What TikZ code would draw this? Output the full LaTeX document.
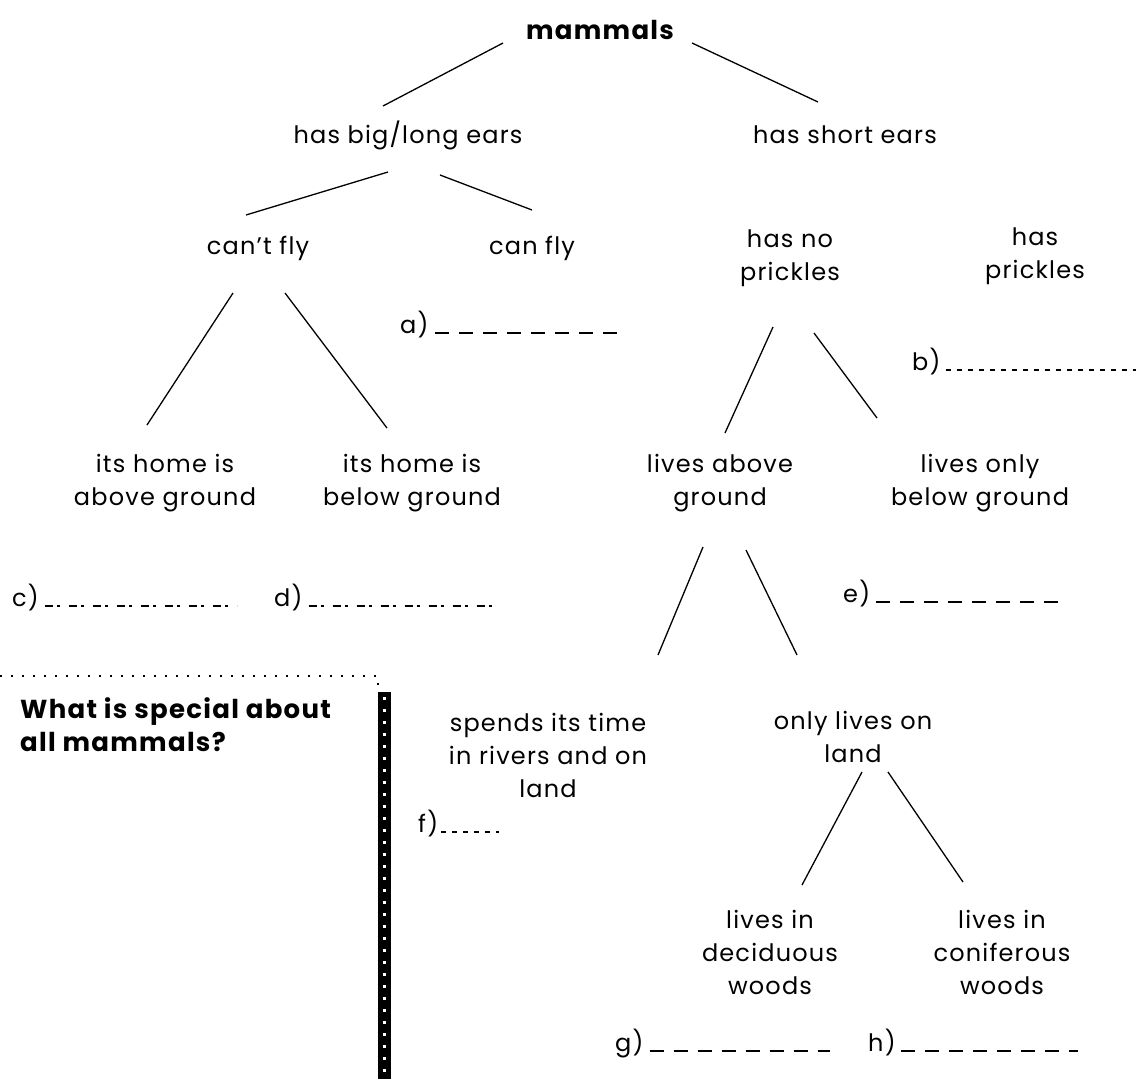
\documentclass[tikz,border=0pt]{standalone}
\usepackage{fontspec}
\setmainfont{Poppins}[LetterSpace=5]
\usetikzlibrary{positioning}

\begin{document}
\begin{tikzpicture}[x=1pt,y=-1pt,
    key/.style={align=center,font=\fontsize{24}{33}\selectfont,inner sep=0pt},
    branch/.style={line width=1.3pt},
    blanklab/.style={font=\fontsize{24}{26}\selectfont,inner sep=0pt,anchor=base west},
    dashline/.style={line width=1.6pt,dash pattern=on 14pt off 10pt},
    dotline/.style={line width=1.2pt,dash pattern=on 5pt off 6pt},
    mixline/.style={line width=1.4pt,dash pattern=on 8pt off 4pt on 3pt off 9pt}]
  \useasboundingbox (0,0) rectangle (1137,1079);

  % the key
  \node[key,font=\fontsize{26}{33}\selectfont\bfseries] (mammals) at (600,30) {mammals};
  \node[key] (bigears) at (408,135) {has big/long ears};
  \node[key] (shortears) at (845,135) {has short ears};
  \node[key] (cantfly) at (258,248) {can't fly};
  \node[key] (canfly) at (532,248) {can fly};
  \node[key] (noprickles) at (790,258) {has no\\prickles};
  \node[key] (prickles) at (1035,256) {has\\prickles};
  \node[key] (homeabove) at (165,483) {its home is\\above ground};
  \node[key] (homebelow) at (412,483) {its home is\\below ground};
  \node[key] (livesabove) at (720,483) {lives above\\ground};
  \node[key] (livesbelow) at (980,483) {lives only\\below ground};
  \node[key] (rivers) at (548,755) {spends its time\\in rivers and on\\land};
  \node[key] (land) at (853,737) {only lives on\\land};
  \node[key] (deciduous) at (770,952) {lives in\\deciduous\\woods};
  \node[key] (coniferous) at (1002,952) {lives in\\coniferous\\woods};

  \draw[branch] ([shift={(-97,13)}]mammals.center) -- ([shift={(-25,-29)}]bigears.center);
  \draw[branch] ([shift={(92,13)}]mammals.center) -- ([shift={(-27,-33)}]shortears.center);
  \draw[branch] ([shift={(-20,37)}]bigears.center) -- ([shift={(-12,-33)}]cantfly.center);
  \draw[branch] ([shift={(32,40)}]bigears.center) -- ([shift={(0,-38)}]canfly.center);
  \draw[branch] ([shift={(-25,45)}]cantfly.center) -- ([shift={(-18,-58)}]homeabove.center);
  \draw[branch] ([shift={(27,45)}]cantfly.center) -- ([shift={(-25,-55)}]homebelow.center);
  \draw[branch] ([shift={(-17,69)}]noprickles.center) -- ([shift={(5,-50)}]livesabove.center);
  \draw[branch] ([shift={(24,75)}]noprickles.center) -- ([shift={(-103,-65)}]livesbelow.center);
  \draw[branch] ([shift={(-17,64)}]livesabove.center) -- ([shift={(110,-100)}]rivers.center);
  \draw[branch] ([shift={(26,67)}]livesabove.center) -- ([shift={(-56,-82)}]land.center);
  \draw[branch] ([shift={(9,35)}]land.center) -- ([shift={(32,-67)}]deciduous.center);
  \draw[branch] ([shift={(35,35)}]land.center) -- ([shift={(-39,-70)}]coniferous.center);

  % blanks to fill in
  \node[blanklab] (alab) at (400,333) {a)};
  \draw[dashline] ([xshift=6]alab.base east) -- ++(188,0);
  \node[blanklab] (blab) at (912,370) {b)};
  \draw[dotline] ([xshift=5]blab.base east) -- ++(190,0);
  \node[blanklab] (clab) at (12,606) {c)};
  \draw[mixline] ([xshift=6]clab.base east) -- ++(192,0);
  \node[blanklab] (dlab) at (274,606) {d)};
  \draw[mixline] ([xshift=6]dlab.base east) -- ++(190,0);
  \node[blanklab] (elab) at (843,602) {e)};
  \draw[dashline] ([xshift=6]elab.base east) -- ++(187,0);
  \node[blanklab] (flab) at (418,832) {f)};
  \draw[dotline] ([xshift=3]flab.base east) -- ++(58,0);
  \node[blanklab] (glab) at (615,1051) {g)};
  \draw[dashline] ([xshift=6]glab.base east) -- ++(180,0);
  \node[blanklab] (hlab) at (868,1051) {h)};
  \draw[dashline] ([xshift=5]hlab.base east) -- ++(177,0);

  % question box
  \draw[line width=1.5pt,dash pattern=on 1.5pt off 9.5pt] (0,676) -- (378,676) -- (378,690);
  \draw[line width=13pt] (384,692) -- (384,1079);
  \draw[white,line width=3pt,dash pattern=on 3pt off 9pt] (384,697) -- (384,1079);
  \node[key,anchor=north west,align=left,font=\fontsize{26}{33}\selectfont\bfseries] (question)
    at (20,697) {What is special about\\all mammals?};
\end{tikzpicture}
\end{document}
